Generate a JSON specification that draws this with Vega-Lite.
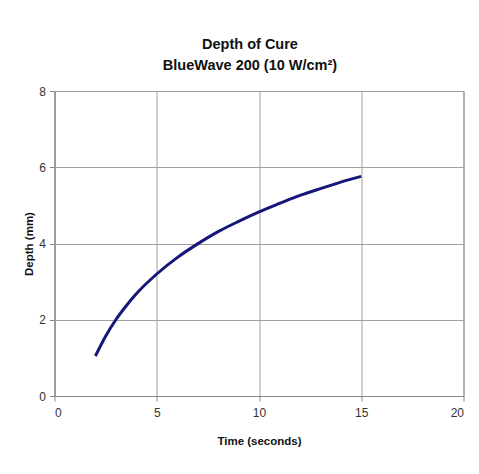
{
  "$schema": "https://vega.github.io/schema/vega-lite/v6.json",
  "autosize": "none",
  "width": 409,
  "height": 305,
  "padding": {"left": 54.5, "top": 91, "right": 15.5, "bottom": 78},
  "background": "white",
  "title": {
    "text": ["Depth of Cure", "BlueWave 200 (10 W/cm²)"],
    "font": "Liberation Sans",
    "fontSize": 14.5,
    "fontWeight": "bold",
    "color": "#111111",
    "lineHeight": 21,
    "offset": 12,
    "dx": -9
  },
  "data": {
    "values": [
      {"time": 2, "depth": 1.05},
      {"time": 2.5, "depth": 1.57},
      {"time": 3, "depth": 2.0},
      {"time": 3.5, "depth": 2.36},
      {"time": 4, "depth": 2.68},
      {"time": 5, "depth": 3.2},
      {"time": 6, "depth": 3.63},
      {"time": 7, "depth": 3.99},
      {"time": 8, "depth": 4.31},
      {"time": 9, "depth": 4.58},
      {"time": 10, "depth": 4.83},
      {"time": 11, "depth": 5.05},
      {"time": 12, "depth": 5.26},
      {"time": 13, "depth": 5.44},
      {"time": 14, "depth": 5.61},
      {"time": 15, "depth": 5.76}
    ]
  },
  "mark": {"type": "line", "interpolate": "monotone", "color": "#16167a", "strokeWidth": 3},
  "encoding": {
    "x": {
      "field": "time",
      "type": "quantitative",
      "scale": {"domain": [0, 20], "nice": false},
      "axis": {"values": [0, 5, 10, 15, 20], "title": "Time (seconds)", "titlePadding": 17, "labelPadding": 6}
    },
    "y": {
      "field": "depth",
      "type": "quantitative",
      "scale": {"domain": [0, 8], "nice": false},
      "axis": {"values": [0, 2, 4, 6, 8], "title": "Depth (mm)", "titlePadding": 4}
    }
  },
  "config": {
    "view": {"stroke": "#888888", "strokeWidth": 1},
    "axis": {
      "domainColor": "#888888",
      "tickColor": "#888888",
      "gridColor": "#a0a0a0",
      "gridWidth": 1,
      "tickSize": 5,
      "labelFont": "Liberation Sans",
      "labelFontSize": 12,
      "labelColor": "#333333",
      "labelPadding": 4,
      "titleFont": "Liberation Sans",
      "titleFontSize": 11.5,
      "titleFontWeight": "bold",
      "titleColor": "#111111"
    }
  }
}
